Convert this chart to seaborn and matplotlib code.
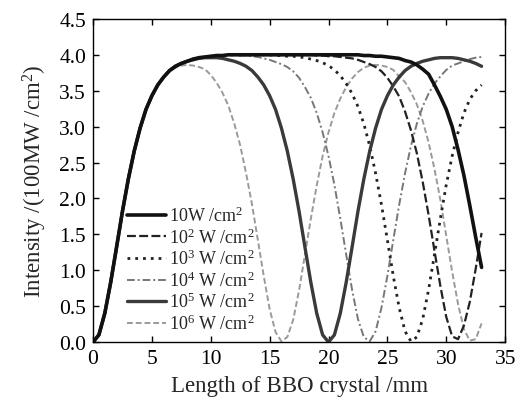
import matplotlib
matplotlib.use("Agg")
import matplotlib.pyplot as plt
from matplotlib.ticker import FormatStrFormatter
import seaborn as sns
import pandas as pd

# Crystal length samples (mm), every 0.5 mm from 0 to 33
length_mm = [i * 0.5 for i in range(67)]

series_labels = [
    "10W /cm$^2$",
    "10$^2$ W /cm$^2$",
    "10$^3$ W /cm$^2$",
    "10$^4$ W /cm$^2$",
    "10$^5$ W /cm$^2$",
    "10$^6$ W /cm$^2$",
]

# Second-harmonic intensity (100 MW/cm^2) for each fundamental intensity
i_1e1 = [0, .10, .40, .83, 1.32, 1.82, 2.27, 2.66, 2.98, 3.24, 3.43, 3.58, 3.69, 3.78,
         3.84, 3.88, 3.91, 3.94, 3.96, 3.97, 3.98, 3.99, 3.99, 4.00, 4.00, 4.00, 4.00, 4.00,
         4.00, 4.00, 4.00, 4.00, 4.00, 4.00, 4.00, 4.00, 4.00, 4.00, 4.00, 4.00, 4.00, 4.00,
         4.00, 4.00, 4.00, 4.00,
         3.99, 3.99, 3.98, 3.98, 3.97, 3.96, 3.95, 3.92, 3.90, 3.86, 3.80, 3.73, 3.58, 3.42,
         3.24, 3.00, 2.68, 2.32, 1.90, 1.46, 1.04]
i_1e2 = [0, .10, .40, .83, 1.32, 1.82, 2.27, 2.66, 2.98, 3.24, 3.43, 3.58, 3.69, 3.78,
         3.84, 3.88, 3.91, 3.94, 3.96, 3.97, 3.98, 3.99, 3.99, 4.00, 4.00, 4.00, 4.00, 4.00,
         4.00, 4.00, 4.00, 4.00, 4.00, 4.00, 4.00, 4.00, 4.00, 4.00,
         3.99, 3.99, 3.98, 3.98, 3.97, 3.96, 3.95, 3.93, 3.90, 3.87, 3.83, 3.77, 3.68, 3.56,
         3.42, 3.21, 2.95, 2.63, 2.23, 1.77, 1.27, .78, .35, .08, .04, .23, .56, 1.02, 1.52]
i_1e3 = [0, .10, .40, .83, 1.32, 1.82, 2.27, 2.66, 2.98, 3.24, 3.43, 3.58, 3.69, 3.78,
         3.84, 3.88, 3.91, 3.94, 3.96, 3.97, 3.98, 3.99, 3.99, 4.00, 4.00, 4.00, 4.00, 4.00,
         4.00, 4.00, 4.00, 3.99, 3.99, 3.98, 3.98, 3.97, 3.96, 3.94, 3.92, 3.89, 3.85, 3.79,
         3.71, 3.60, 3.46, 3.28, 3.04, 2.73, 2.35, 1.91, 1.42, .92, .48, .15, .01, .07,
         .32, .73, 1.22, 1.72, 2.19, 2.59, 2.92, 3.19, 3.38, 3.50, 3.58]
i_1e4 = [0, .10, .40, .83, 1.32, 1.82, 2.27, 2.66, 2.98, 3.24, 3.43, 3.58, 3.69, 3.78,
         3.84, 3.88, 3.91, 3.94, 3.96, 3.97, 3.98, 3.99, 3.99, 4.00,
         4.00, 3.99, 3.99, 3.98, 3.97, 3.95, 3.93, 3.90, 3.87, 3.83, 3.77, 3.68, 3.55, 3.40,
         3.19, 2.92, 2.59, 2.19, 1.72, 1.22, .73, .32, .07, .01, .15, .48, .92, 1.42,
         1.91, 2.35, 2.73, 3.04, 3.28, 3.46, 3.60, 3.70, 3.79, 3.85, 3.88, 3.91, 3.94, 3.96, 3.97]
i_1e5 = [0, .10, .40, .83, 1.32, 1.82, 2.27, 2.66, 2.98, 3.24, 3.43, 3.58, 3.69, 3.78,
         3.84, 3.88, 3.91, 3.93, 3.95, 3.96,
         3.96, 3.96, 3.95, 3.93, 3.91, 3.88, 3.84, 3.78, 3.69, 3.58, 3.43, 3.24, 2.98, 2.66,
         2.27, 1.82, 1.32, .83, .40, .10,
         0, .10, .40, .83, 1.32, 1.82, 2.27, 2.66, 2.98, 3.24, 3.43, 3.58, 3.69, 3.78,
         3.84, 3.88, 3.91, 3.93, 3.95, 3.96,
         3.96, 3.96, 3.95, 3.93, 3.91, 3.88, 3.84]
i_1e6 = [0, .10, .40, .83, 1.32, 1.82, 2.27, 2.66, 2.98, 3.24, 3.43, 3.58, 3.69, 3.77,
         3.82, 3.85, 3.86,
         3.85, 3.83, 3.80, 3.72, 3.61, 3.47, 3.29, 3.04, 2.74, 2.35, 1.92, 1.42, .92, .46,
         .14, .01,
         .07, .31, .72, 1.22, 1.72, 2.18, 2.59, 2.92, 3.19, 3.39, 3.55, 3.67, 3.76, 3.82,
         3.85, 3.86,
         3.85, 3.83, 3.79, 3.70, 3.62, 3.48, 3.31, 3.08, 2.78, 2.41, 1.98, 1.48, .98, .53,
         .18, .02, .04, .26]

x_ticks = [0, 5, 10, 15, 20, 25, 30, 35]
y_ticks = [0.0, 0.5, 1.0, 1.5, 2.0, 2.5, 3.0, 3.5, 4.0, 4.5]

sns.set_style("ticks")
plt.rcParams["font.family"] = ["Liberation Serif", "DejaVu Serif"]
plt.rcParams["mathtext.fontset"] = "custom"
plt.rcParams["mathtext.rm"] = "Liberation Serif"
plt.rcParams["mathtext.it"] = "Liberation Serif:italic"

all_series = [i_1e1, i_1e2, i_1e3, i_1e4, i_1e5, i_1e6]
frames = []
for label, vals in zip(series_labels, all_series):
    frames.append(pd.DataFrame({"length": length_mm, "intensity": vals, "series": label}))
df = pd.concat(frames, ignore_index=True)

styles = {
    series_labels[0]: dict(color="#111111", lw=2.6, ls="-"),
    series_labels[1]: dict(color="#222222", lw=1.6, ls=(0, (4, 1.5))),
    series_labels[2]: dict(color="#222222", lw=2.0, ls=(0, (1, 1.8))),
    series_labels[3]: dict(color="#777777", lw=1.4, ls=(0, (4, 1.5, 1, 1.5))),
    series_labels[4]: dict(color="#3a3a3a", lw=2.4, ls="-"),
    series_labels[5]: dict(color="#9a9a9a", lw=1.4, ls=(0, (3, 1.5))),
}

fig = plt.figure(figsize=(5.24, 4.06), dpi=100)
ax = fig.add_axes([0.1775, 0.155, 0.7865, 0.796])

draw_order = [5, 3, 2, 1, 4, 0]
for k in draw_order:
    label = series_labels[k]
    sub = df[df["series"] == label]
    st = styles[label]
    sns.lineplot(data=sub, x="length", y="intensity", ax=ax, color=st["color"],
                 linewidth=st["lw"], linestyle=st["ls"], label=label,
                 estimator=None, sort=False)

handles, labels = ax.get_legend_handles_labels()
order = [labels.index(l) for l in series_labels]
ax.legend([handles[i] for i in order], [labels[i] for i in order],
          loc="lower left", bbox_to_anchor=(0.06, 0.0), frameon=False,
          fontsize=13, handlelength=2.2, handletextpad=0.15, labelspacing=0.12,
          borderaxespad=0.1)

ax.set_xlim(0, 35)
ax.set_ylim(0, 4.5)
ax.set_xticks(x_ticks)
ax.set_yticks(y_ticks)
ax.yaxis.set_major_formatter(FormatStrFormatter("%.1f"))
ax.tick_params(direction="in", top=True, right=True, length=4, width=1,
               labelsize=15.5, colors="black", pad=5)
for sp in ax.spines.values():
    sp.set_visible(True)
    sp.set_linewidth(1.0)
    sp.set_color("black")

ax.set_xlabel("Length of BBO crystal /mm", fontsize=16.5, labelpad=5)
ax.set_ylabel("Intensity /(100MW /cm$^2$)", fontsize=16.5, labelpad=7)

fig.savefig("out.png", dpi=100)
